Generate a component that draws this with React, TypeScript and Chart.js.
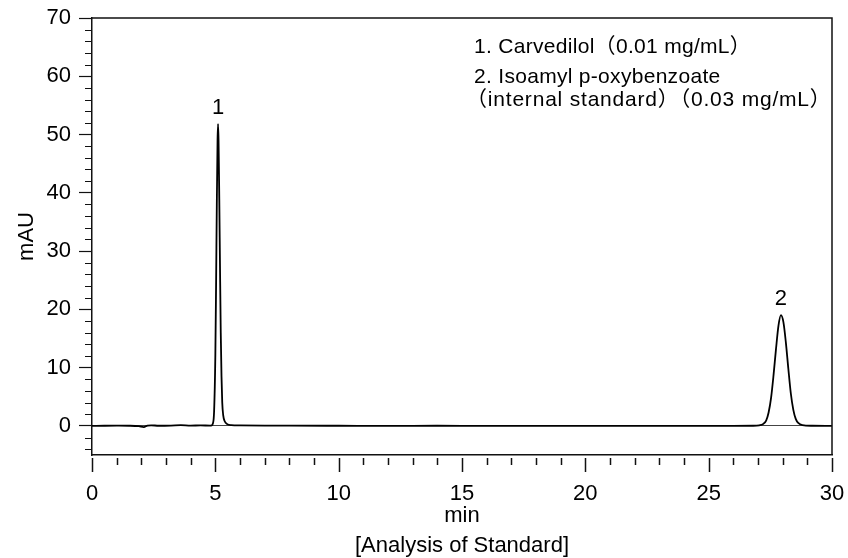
import { useEffect, useRef } from 'react';
import { Chart, registerables } from 'chart.js';

Chart.register(...registerables);

// Retention time (min)
const timeMin = [
  0, 0.5, 1.0, 1.5, 1.9, 2.1, 2.25, 2.4, 2.7, 3.2, 3.6, 4.0, 4.4, 4.8,
  4.85, 4.9, 4.95, 5.0, 5.03, 5.06, 5.09, 5.11, 5.13, 5.16, 5.19, 5.22, 5.25, 5.28, 5.32, 5.38, 5.48, 5.65,
  6.0, 7.0, 8.0, 10.0, 12.0, 14.0, 16.0, 18.0, 20.0, 22.0, 24.0, 26.0, 26.8,
  27.05, 27.2, 27.33, 27.43, 27.53, 27.63, 27.73, 27.83, 27.93, 28.03, 28.13, 28.23, 28.33, 28.43, 28.53, 28.63, 28.8,
  29.2, 30,
];
// Detector response (mAU)
const absorbance = [
  0, 0.02, 0.03, 0.02, -0.05, -0.2, 0.05, 0.1, 0.02, 0.05, 0.12, 0.05, 0.08, 0.05,
  0.08, 0.4, 2.5, 12, 24, 38, 49, 51.8, 49, 39, 27, 16, 8.5, 4, 1.8, 0.8, 0.3, 0.12,
  0.08, 0.05, 0.03, 0.02, 0.0, 0.02, 0.0, 0.01, 0.0, 0.0, 0.0, 0.0, 0.02,
  0.1, 0.3, 0.9, 2.3, 4.8, 8.7, 13.2, 17.2, 19, 17.8, 14.3, 9.8, 5.6, 2.8, 1.2, 0.5, 0.12,
  0.02, 0,
];

const yTickValues = [0, 10, 20, 30, 40, 50, 60, 70];
const xTickValues = [0, 5, 10, 15, 20, 25, 30];

const peakLabels = [
  { text: '1', time: 5.11, value: 51.8 },
  { text: '2', time: 27.93, value: 19 },
];

const noteLines = [
  '1. Carvedilol（0.01 mg/mL）',
  '2. Isoamyl p-oxybenzoate',
  '（internal standard）（0.03 mg/mL）',
];

const FONT = '"Liberation Sans", Arial, "Noto Sans CJK JP", sans-serif';

export default function App() {
  const ref = useRef<HTMLCanvasElement | null>(null);

  useEffect(() => {
    if (!ref.current) return;

    const decor = {
      id: 'decor',
      afterDraw(chart: any) {
        const { ctx, chartArea, scales } = chart;
        const xs = scales.x;
        const ys = scales.y;
        ctx.save();
        // frame top & right
        ctx.strokeStyle = '#111';
        ctx.lineWidth = 1.5;
        ctx.beginPath();
        ctx.moveTo(chartArea.left, chartArea.top);
        ctx.lineTo(chartArea.right, chartArea.top);
        ctx.lineTo(chartArea.right, chartArea.bottom);
        ctx.stroke();

        // y minor ticks
        ctx.lineWidth = 1.2;
        ctx.beginPath();
        for (let v = -4; v < 70; v += 2) {
          if (v % 10 === 0) continue;
          const py = Math.round(ys.getPixelForValue(v)) + 0.5;
          ctx.moveTo(chartArea.left - 7, py);
          ctx.lineTo(chartArea.left, py);
        }
        ctx.stroke();

        // x ticks (major + minor), below a small gap
        ctx.lineWidth = 1.5;
        ctx.beginPath();
        const b = chartArea.bottom;
        for (let v = 0; v <= 30; v += 1) {
          const px = Math.round(xs.getPixelForValue(v)) + 0.5;
          const major = v % 5 === 0;
          ctx.moveTo(px, b + 3);
          ctx.lineTo(px, b + (major ? 17 : 10));
        }
        ctx.stroke();

        // peak labels
        ctx.fillStyle = '#000';
        ctx.font = `22px ${FONT}`;
        ctx.textAlign = 'center';
        ctx.textBaseline = 'alphabetic';
        for (const p of peakLabels) {
          ctx.fillText(p.text, xs.getPixelForValue(p.time), ys.getPixelForValue(p.value) - 10);
        }

        // notes
        ctx.textAlign = 'left';
        ctx.font = `21px ${FONT}`;
        const xsPos = [474, 474, 466];
        const spacing = ['0.3px', '0.3px', '0.8px'];
        const baselines = [53, 83, 106];
        noteLines.forEach((t, i) => {
          try { (ctx as any).letterSpacing = spacing[i]; } catch (e) {}
          ctx.fillText(t, xsPos[i], baselines[i]);
        });
        ctx.restore();
      },
    };

    const chart = new Chart(ref.current, {
      type: 'line',
      data: {
        datasets: [
          {
            data: timeMin.map((t, i) => ({ x: t, y: absorbance[i] })),
            borderColor: '#000',
            borderWidth: 1.8,
            pointRadius: 0,
            tension: 0.35,
            cubicInterpolationMode: 'monotone',
          },
        ],
      },
      options: {
        responsive: false,
        animation: false,
        layout: { padding: { left: 0, right: 16, top: 18, bottom: 0 } },
        plugins: { legend: { display: false }, tooltip: { enabled: false } },
        scales: {
          x: {
            type: 'linear',
            min: 0,
            max: 30,
            afterBuildTicks: (s: any) => {
              s.ticks = xTickValues.map((v) => ({ value: v }));
            },
            afterFit: (s: any) => {
              s.height = 103;
              s.paddingLeft = 0;
              s.paddingRight = 0;
            },
            grid: {
              drawOnChartArea: false,
              drawTicks: true,
              tickLength: 17,
              tickColor: 'transparent',
            },
            border: { display: true, color: '#111', width: 1.5 },
            ticks: {
              color: '#000',
              font: { family: FONT, size: 22 },
              padding: 9,
              maxRotation: 0,
            },
            title: {
              display: true,
              text: ['min', '[Analysis of Standard]'],
              color: '#000',
              font: { family: FONT, size: 22, lineHeight: '30px' },
              padding: { top: 0, bottom: -3 },
            },
          },
          y: {
            type: 'linear',
            min: -5,
            max: 70,
            afterBuildTicks: (s: any) => {
              s.ticks = yTickValues.map((v) => ({ value: v }));
            },
            afterFit: (s: any) => {
              s.width = 92;
              s.paddingTop = 0;
              s.paddingBottom = 0;
            },
            grid: {
              drawOnChartArea: true,
              drawTicks: true,
              tickLength: 13,
              tickColor: '#111',
              tickWidth: 1.2,
              color: (c: any) => (c.tick && c.tick.value === 0 ? '#444' : 'transparent'),
              lineWidth: 1,
            },
            border: { display: true, color: '#111', width: 1.5 },
            ticks: {
              color: '#000',
              font: { family: FONT, size: 22 },
              padding: 8,
            },
            title: {
              display: true,
              text: 'mAU',
              color: '#000',
              font: { family: FONT, size: 22 },
              padding: { top: 14, bottom: 0 },
            },
          },
        },
      },
      plugins: [decor],
    });

    return () => chart.destroy();
  }, []);

  return (
    <div style={{ position: 'fixed', left: 0, top: 0, width: 848, height: 558, background: '#fff' }}>
      <canvas ref={ref} width={848} height={558} style={{ display: 'block' }} />
    </div>
  );
}
